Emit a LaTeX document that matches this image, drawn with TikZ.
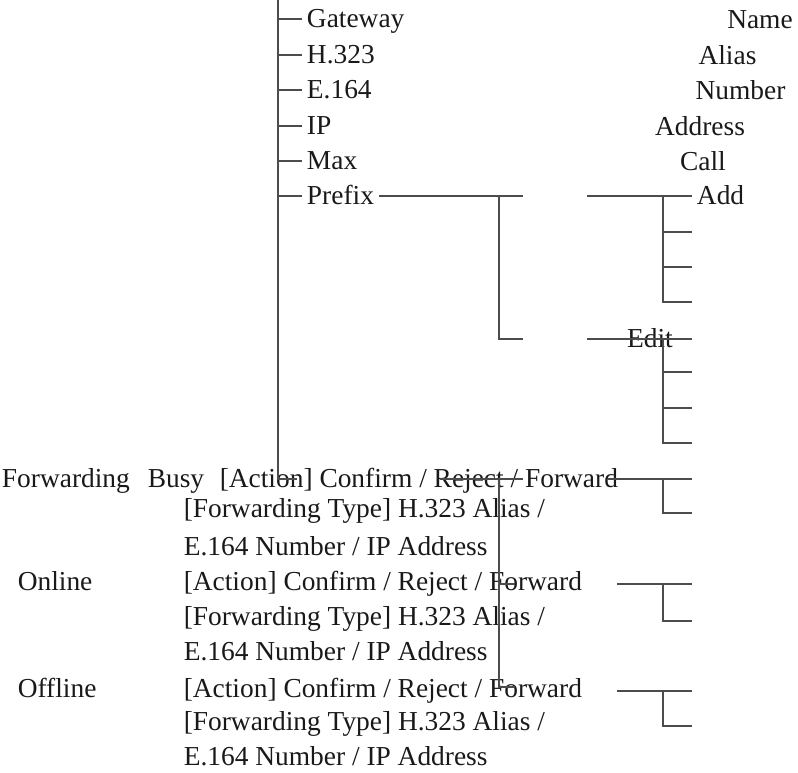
\documentclass[tikz,border=0pt]{standalone}
\usepackage{fontspec}
\setmainfont{Liberation Serif}
\usepackage{tkz-euclide}
\definecolor{LineClr}{rgb}{0.3,0.3,0.3}
\definecolor{TextClr}{rgb}{0.1,0.1,0.1}

\begin{document}
\begin{tikzpicture}[scale=.5,
  lbl/.style={inner sep=.3333em,text height=3ex,text depth=.3ex,
    text=TextClr,font=\fontsize{19.5}{23}\selectfont},
  branch/.style={line width=1.4pt,color=LineClr}]
\useasboundingbox (0,0) rectangle (39.9,38.65);

% trunk and its ticks
\tkzDefPoints{13.9/38.65/T0,13.9/37.7/T1,13.9/35.9/T2,13.9/34.15/T3,13.9/32.35/T4,
  13.9/30.6/T5,13.9/28.85/T6,13.9/14.7/T7,14.85/14.7/G7}
\tkzDefPoints{15.1/37.7/G1,15.1/35.9/G2,15.1/34.15/G3,15.1/32.35/G4,15.1/30.6/G5,15.1/28.85/G6}
% prefix branch
\tkzDefPoints{24.95/28.85/Q1,26.15/28.85/P1,24.95/21.7/Q2,26.15/21.7/P2}
\tkzDefPoints{29.35/28.85/A0,33.15/28.85/A1,33.15/27.05/A2,34.6/27.05/A3,
  33.15/25.3/A4,34.6/25.3/A5,33.15/23.55/A6,34.6/23.55/A7}
\tkzDefPoints{29.35/21.7/E0,33.15/21.7/E1,34.6/21.7/E2,33.15/20.05/E3,34.6/20.05/E4,
  33.15/18.25/E5,34.6/18.25/E6,33.15/16.5/E7,34.6/16.5/E8}
% forwarding
\tkzDefPoints{22/14.7/F0,26.15/14.7/F1,30.4/14.7/F2,33.15/14.7/F3,34.6/14.7/F4,
  33.15/13/F5,34.6/13/F6}
\tkzDefPoints{24.95/14.7/R0,24.95/9.45/R1,25.75/9.45/R2,24.95/4.3/R3,25.75/4.3/R4}
\tkzDefPoints{30.85/9.45/N0,33.15/9.45/N1,34.6/9.45/N2,33.15/7.6/N3,34.6/7.6/N4}
\tkzDefPoints{30.85/4.1/O0,33.15/4.1/O1,34.6/4.1/O2,33.15/2.35/O3,34.6/2.35/O4}

\node[lbl,anchor=west] (gw) at (G1) {Gateway};
\node[lbl,anchor=west] (hh) at (G2) {H.323};
\node[lbl,anchor=west] (ee) at (G3) {E.164};
\node[lbl,anchor=west] (ip) at (G4) {IP};
\node[lbl,anchor=west] (mx) at (G5) {Max};
\node[lbl,anchor=west] (pf) at (G6) {Prefix};

\node[lbl] (name) at (38,37.65) {Name};
\node[lbl] (alias) at (36.375,35.85) {Alias};
\node[lbl] (number) at (37.025,34.1) {Number};
\node[lbl] (address) at (35,32.3) {Address};
\node[lbl] (call) at (35.15,30.55) {Call};
\node[lbl,anchor=west] (add) at (34.6,28.85) {Add};
\node[lbl] (edit) at (32.5,21.7) {Edit};

\node[lbl,anchor=west] (fwd) at (-0.15,14.7) {Forwarding};
\node[lbl,anchor=west] (busy) at (7.14,14.7) {Busy};
\node[lbl,anchor=west] (busyact) at (10.74,14.7) {[Action] Confirm / Reject / Forward};
\node[lbl,anchor=west] (busytype) at (8.94,13.2) {[Forwarding Type] H.323 Alias /};
\node[lbl,anchor=west] (busyaddr) at (8.94,11.3) {E.164 Number / IP Address};
\node[lbl,anchor=west] (online) at (0.64,9.55) {Online};
\node[lbl,anchor=west] (onact) at (8.94,9.55) {[Action] Confirm / Reject / Forward};
\node[lbl,anchor=west] (ontype) at (8.94,7.8) {[Forwarding Type] H.323 Alias /};
\node[lbl,anchor=west] (onaddr) at (8.94,6.05) {E.164 Number / IP Address};
\node[lbl,anchor=west] (offline) at (0.64,4.2) {Offline};
\node[lbl,anchor=west] (offact) at (8.94,4.2) {[Action] Confirm / Reject / Forward};
\node[lbl,anchor=west] (offtype) at (8.94,2.55) {[Forwarding Type] H.323 Alias /};
\node[lbl,anchor=west] (offaddr) at (8.94,0.8) {E.164 Number / IP Address};

\draw[branch] (T0) -- (T7) -- (G7);
\foreach \i/\n in {1/gw,2/hh,3/ee,4/ip,5/mx,6/pf}
  \draw[branch] (T\i) -- (\n.west);
\draw[branch] (pf) -- (P1) (Q1) -- (Q2) -- (P2);
\draw[branch] (A0) -- (add.west) (A1) -- (A6) -- (A7) (A2) -- (A3) (A4) -- (A5);
\draw[branch] (E0) -- (E2) (E1) -- (E7) -- (E8) (E3) -- (E4) (E5) -- (E6);
\draw[branch] (F0) -- (F1) (F2) -- (F4) (F3) -- (F5) -- (F6);
\draw[branch] (R0) -- (R3) -- (R4) (R1) -- (R2);
\draw[branch] (N0) -- (N2) (N1) -- (N3) -- (N4);
\draw[branch] (O0) -- (O2) (O1) -- (O3) -- (O4);

\end{tikzpicture}
\end{document}
